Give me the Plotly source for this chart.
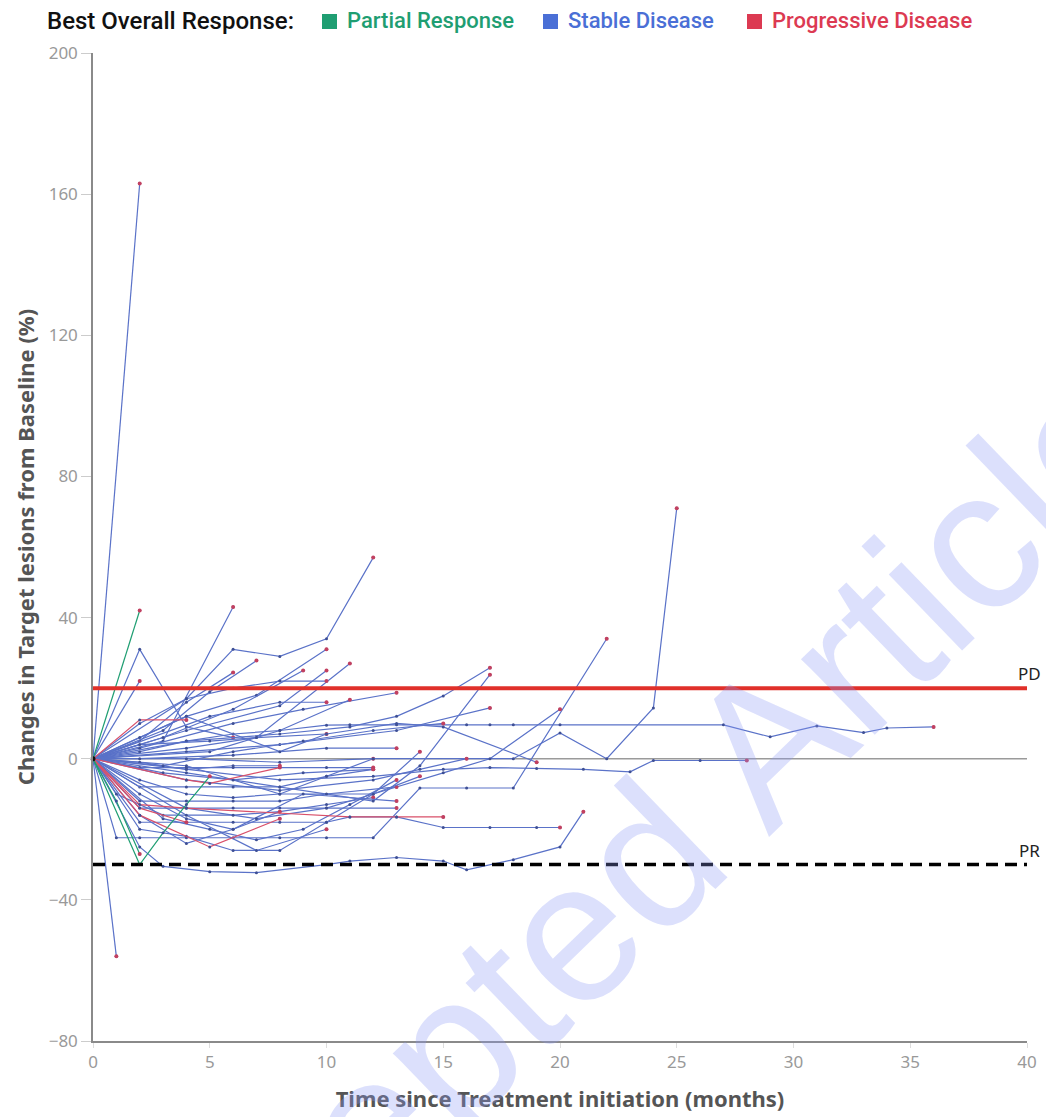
import plotly.graph_objects as go

# Best overall response groups: per-patient assessment months and % change in target lesions
pr_months = [[0, 2], [0, 2, 3, 4, 5], [0, 1, 2]]
pr_values = [[0, 42], [0, -30, -21, -13, -5], [0, -12, -27]]

pd_months = [[0, 2, 4], [0, 2, 5, 8], [0, 2, 4, 11, 13, 15], [0, 4, 5, 8], [0, 2, 4]]
pd_values = [[0, 11, 11], [0, -16, -25, -17], [0, -13, -14, -16.5, -16.5, -16.5],
             [0, -6, -7, -2.5], [0, -14, -18]]

sd_months = [
    [0, 2], [0, 2, 4, 6], [0, 2], [0, 3, 6], [0, 4, 6, 8, 10, 12], [0, 1],
    [0, 2, 4, 6, 8, 10, 11, 13, 16, 17, 18, 20, 27, 29, 31, 33, 34, 36],
    [0, 4, 8, 12, 15, 17, 19, 21, 23, 24, 26, 28],
    [0, 2, 3, 5, 7, 10, 11, 13, 15, 16, 18, 20, 21],
    [0, 4, 8, 12, 14, 16, 18, 20, 22, 24, 25],
    [0, 1, 2, 4, 6, 8, 10, 12, 14, 16, 18, 22],
    [0, 4, 8, 12, 15, 17, 20],
    [0, 2, 6, 9, 13], [0, 4, 8, 11, 13, 15, 17], [0, 4, 8, 12, 14, 17], [0, 4, 8, 13, 17],
    [0, 2, 4, 6], [0, 3, 5, 7], [0, 4, 7, 10], [0, 4, 8, 10], [0, 3, 6, 9], [0, 5, 8, 10],
    [0, 4, 7, 11], [0, 5, 8, 11],
    [0, 2, 4, 6, 8, 10, 12], [0, 2, 4, 6, 8, 10, 12], [0, 2, 4, 6, 8, 10, 13],
    [0, 2, 4, 6, 8, 10, 12, 14], [0, 2, 4, 6, 8, 10, 11, 13, 15, 17, 19, 20],
    [0, 2, 4, 6, 8, 10, 12, 14], [0, 2, 4, 6, 8, 10, 12], [0, 2, 4, 6, 8, 10, 12],
    [0, 3, 5, 7, 9, 11, 13], [0, 2, 4, 6, 9, 13], [0, 4, 7, 10, 13], [0, 3, 6, 9, 12],
    [0, 4, 8, 12, 16], [0, 2, 6, 10, 13], [0, 2, 5, 7, 10], [0, 2, 4, 6, 8],
    [0, 1, 3, 6, 8], [0, 2, 4, 8, 10, 13, 15, 19], [0, 4, 7, 10], [0, 2, 4, 6, 8, 10],
    [0, 3, 6, 9, 12, 15],
]
sd_values = [
    [0, 163], [0, 31, 9, 6], [0, 22], [0, 5, 43], [0, 17, 31, 29, 34, 57], [0, -56],
    [0, 2, 5, 7, 8, 9.5, 9.6, 9.6, 9.6, 9.6, 9.6, 9.6, 9.6, 6.2, 9.3, 7.4, 8.7, 9],
    [0, -3, -6, -5, -3, -2.5, -2.8, -3, -3.7, -0.5, -0.5, -0.5],
    [0, -25, -30.5, -32, -32.3, -30, -29, -28, -29, -31.5, -28.6, -25, -15],
    [0, -6, -9, -6, -3, 0, 0, 7.3, 0, 14.4, 71],
    [0, -22.4, -22.4, -22.4, -22.4, -22.4, -22.4, -22.4, -8.3, -8.3, -8.3, 34],
    [0, -2, -10, -10, -4, 0, 14],
    [0, 3, 10, 14, 18.7], [0, 5, 7, 9, 12, 17.8, 25.8], [0, -4, -8, -12, -2, 23.8], [0, 2, 4, 8, 14.4],
    [0, 5, 16, 24.4], [0, 8, 19, 27.8], [0, 12, 18, 31], [0, 8, 15, 25], [0, 6, 14, 25], [0, 12, 16, 16],
    [0, 3, 6, 27], [0, 2, 8, 16.7],
    [0, -2.5, -2.5, -2.5, -2.5, -2.5, -2.5], [0, -8, -8, -8, -8, -5, -3], [0, -12, -12, -12, -12, -10, -8],
    [0, -14, -14, -14, -14, -14, -10, 2], [0, -18, -18, -18, -18, -18, -16.5, -16.5, -19.5, -19.5, -19.5, -19.5],
    [0, -20, -22, -26, -26, -18, -10, -5], [0, -16, -24, -20, -15, -13, -11], [0, -6, -10, -11, -10, -5, 0],
    [0, -17, -20, -23, -20, -13, -6], [0, -10, -17, -20, -10, -12], [0, -14, -17, -14, -14], [0, -4, -6, -4, -3],
    [0, 0, -1, 0, 0], [0, 0, 1, 3, 3], [0, 4, 5, 6, 7], [0, -1, -3, -2, -2],
    [0, -10, -16, -16, -15], [0, 6, 12, 2, 7, 10, 9, -1], [0, -16, -26, -20], [0, 10, 17, 20, 22, 22],
    [0, -2, 2, 5, 8, 10],
]

pd_threshold = 20
pr_threshold = -30
x_ticks = [0, 5, 10, 15, 20, 25, 30, 35, 40]
y_ticks = [-80, -40, 0, 40, 80, 120, 160, 200]

groups = [
    ("Stable Disease", sd_months, sd_values, "#5a72c8"),
    ("Progressive Disease", pd_months, pd_values, "#d9506a"),
    ("Partial Response", pr_months, pr_values, "#1f9e72"),
]
end_colour = "#c24060"

fig = go.Figure()

# zero reference line
fig.add_trace(go.Scatter(x=[0, 40], y=[0, 0], mode="lines",
                         line=dict(color="#9a9a9a", width=1.5),
                         hoverinfo="skip", showlegend=False))

for name, months, values, colour in groups:
    for m, v in zip(months, values):
        fig.add_trace(go.Scatter(
            x=m, y=v, mode="lines+markers", name=name, showlegend=False,
            line=dict(color=colour, width=1.2),
            marker=dict(size=3, color="#3e4f94"),
            cliponaxis=False,
        ))
        fig.add_trace(go.Scatter(
            x=[m[-1]], y=[v[-1]], mode="markers", showlegend=False,
            marker=dict(size=4, color=end_colour), hoverinfo="skip", cliponaxis=False,
        ))

# common baseline point
fig.add_trace(go.Scatter(x=[0], y=[0], mode="markers", showlegend=False,
                         marker=dict(size=5, color="#111111"), cliponaxis=False))

# response thresholds
fig.add_trace(go.Scatter(x=[0, 40], y=[pd_threshold] * 2, mode="lines",
                         line=dict(color="#e0302a", width=4), showlegend=False, hoverinfo="skip"))
fig.add_trace(go.Scatter(x=[0, 40], y=[pr_threshold] * 2, mode="lines",
                         line=dict(color="#000000", width=3.5, dash="12px,7px"),
                         showlegend=False, hoverinfo="skip"))

annotations = [
    dict(x=40, y=pd_threshold, xref="x", yref="y", text="PD", showarrow=False,
         xanchor="center", yanchor="bottom", yshift=1, xshift=2,
         font=dict(size=17, color="#222222", family="Noto Sans")),
    dict(x=40, y=pr_threshold, xref="x", yref="y", text="PR", showarrow=False,
         xanchor="center", yanchor="bottom", yshift=1, xshift=2,
         font=dict(size=17, color="#222222", family="Noto Sans")),
]

# legend header row drawn as text + colour swatches
W, H, L, T = 934, 988, 93, 53


def px_x(p):
    return (p - L) / W


def px_y(p):
    return (T + H - p) / H


# journal watermark
annotations.append(dict(x=px_x(604), y=px_y(899), xref="paper", yref="paper",
                        text="Accepted Article", showarrow=False, textangle=-44,
                        xanchor="center", yanchor="middle",
                        font=dict(size=200, color="rgba(140,152,245,0.3)",
                                  family="Liberation Sans")))

annotations.append(dict(x=px_x(45), y=px_y(21), xref="paper", yref="paper",
                        text="Best Overall Response:", showarrow=False,
                        xanchor="left", yanchor="middle",
                        font=dict(size=24, color="#111111", family="Roboto", weight=500)))
legend_items = [("Partial Response", "#1f9e72", 322),
                ("Stable Disease", "#4a6fd6", 543),
                ("Progressive Disease", "#dc3a52", 747)]
shapes = []
for label, colour, left in legend_items:
    shapes.append(dict(type="rect", xref="paper", yref="paper",
                       x0=px_x(left), x1=px_x(left + 15), y0=px_y(29), y1=px_y(14),
                       fillcolor=colour, line=dict(width=0)))
    annotations.append(dict(x=px_x(left + 23), y=px_y(21), xref="paper", yref="paper",
                            text=label, showarrow=False, xanchor="left", yanchor="middle",
                            font=dict(size=22, color=colour, family="Roboto", weight=500)))

fig.update_layout(
    width=1046, height=1117,
    margin=dict(l=L, r=1046 - L - W, t=T, b=1117 - T - H, autoexpand=False),
    paper_bgcolor="white", plot_bgcolor="white",
    showlegend=False,
    annotations=annotations, shapes=shapes,
    xaxis=dict(range=[0, 40], tickvals=x_ticks, showgrid=False, zeroline=False,
               automargin=False,
               showline=True, linecolor="#8a8a8a", linewidth=1.5,
               ticks="outside", ticklen=5, tickcolor="#dddddd",
               tickfont=dict(size=17, color="#999999", family="Noto Sans"),
               title=dict(text="<b>Time since Treatment initiation (months)</b>",
                          font=dict(size=22, color="#555555", family="Noto Sans"), standoff=19)),
    yaxis=dict(range=[-80, 200], tickvals=y_ticks, showgrid=False, zeroline=False,
               automargin=False,
               showline=True, linecolor="#8a8a8a", linewidth=1.5,
               ticks="outside", ticklen=10, tickcolor="#cccccc",
               tickfont=dict(size=17, color="#999999", family="Noto Sans"),
               title=dict(text="<b>Changes in Target lesions from Baseline (%)</b>",
                          font=dict(size=22, color="#555555", family="Noto Sans"), standoff=8)),
)

fig.write_html("out.html")
